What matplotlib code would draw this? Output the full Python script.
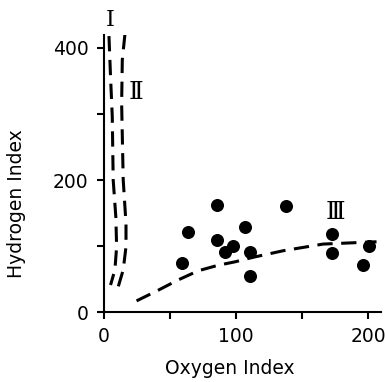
import matplotlib
matplotlib.use('Agg')
import matplotlib.pyplot as plt

# measured samples (oxygen index, hydrogen index)
ox_pts = [59, 64, 86, 86, 92, 98, 107, 111, 111, 138, 173, 173, 196, 201]
hi_pts = [75, 122, 162, 109, 91, 100, 129, 91, 54, 161, 118, 89, 71, 100]

# evolution path I
ox_I = [3.8, 5.0, 6.3, 7.0, 9.0, 9.6, 8.3, 5.0]
hi_I = [418, 356, 296, 200, 144, 99, 64, 41]

# evolution path II
ox_II = [15.9, 13.9, 13.4, 14.6, 16.7, 16.7, 14.6, 10.9]
hi_II = [421, 382, 316, 200, 134, 99, 64, 39]

# evolution path III
ox_III = [24.7, 41, 56, 71.5, 86.6, 99, 113, 136, 166, 206.5]
hi_III = [17, 33, 48.5, 62.6, 71, 76, 83, 93, 103, 106.5]

plt.rcParams['font.family'] = ['DejaVu Sans']
fig = plt.figure(figsize=(3.85, 3.82), dpi=100)
ax = fig.add_axes([0.27, 0.183, 0.72, 0.726])

dash = dict(color='black', lw=2.2, dashes=(5, 2.8))
ax.plot(ox_I, hi_I, **dash)
ax.plot(ox_II, hi_II, **dash)
ax.plot(ox_III, hi_III, **dash)
ax.scatter(ox_pts, hi_pts, s=70, color='black', zorder=3)

serif = ['DejaVu Serif']
ax.text(4.5, 443, '\u2160', family=serif, fontsize=16, ha='center', va='center', clip_on=False)
ax.text(24, 333, '\u2161', family=serif, fontsize=18, ha='center', va='center')
ax.text(175, 151, '\u2162', family=serif, fontsize=18, ha='center', va='center')

ax.set_xlim(0, 210)
ax.set_ylim(0, 420)
ax.set_xticks([0, 50, 100, 150, 200])
ax.set_xticklabels(['0', '', '100', '', '200'])
ax.set_yticks([0, 100, 200, 300, 400])
ax.set_yticklabels(['0', '', '200', '', '400'])
ax.spines['top'].set_visible(False)
ax.spines['right'].set_visible(False)
for s in ['left', 'bottom']:
    ax.spines[s].set_linewidth(1.5)
ax.tick_params(direction='out', length=5, width=1.5, labelsize=13.5, pad=6)
ax.set_xlabel('Oxygen Index', fontsize=13.5)
ax.set_ylabel('Hydrogen Index', fontsize=13.5)
ax.xaxis.set_label_coords(0.455, -0.168)
ax.yaxis.set_label_coords(-0.28, 0.39)

fig.savefig('out.png', dpi=100)
